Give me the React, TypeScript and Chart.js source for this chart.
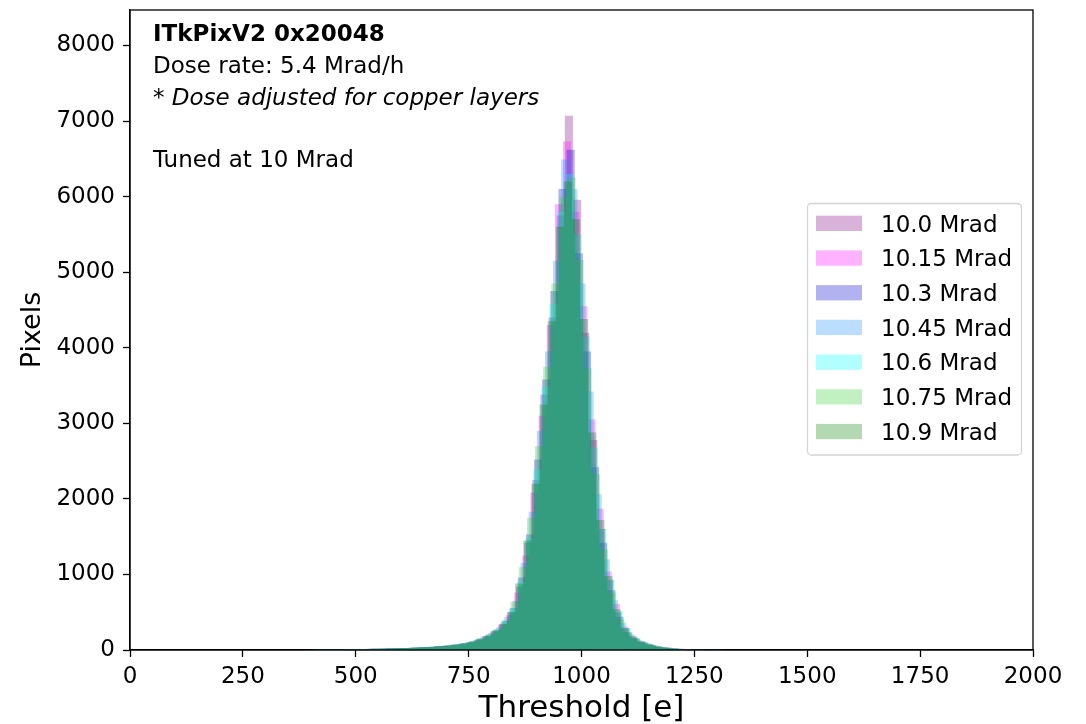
import React, { useEffect, useRef } from 'react';
import { Chart, registerables } from 'chart.js';

Chart.register(...registerables);

// ---------------- data ----------------
const BIN_WIDTH = 18; // electrons per histogram bin

const seriesLabels = ['10.0 Mrad', '10.15 Mrad', '10.3 Mrad', '10.45 Mrad', '10.6 Mrad', '10.75 Mrad', '10.9 Mrad'];

// left edge of the first bin of each histogram [e]
const binStarts = [405, 401, 409, 397, 407, 411, 403];

const counts100 = [5, 6, 7, 9, 10, 11, 14, 15, 18, 22, 24, 28, 31, 37, 41, 49, 58, 69, 87, 107, 148, 186, 258, 352, 505, 840, 1420, 2250, 3380, 4400, 5750, 7070, 5960, 4200, 2780, 1600, 930, 500, 280, 160, 110, 70, 47, 30, 21, 13, 9, 6, 4, 2, 1];
const counts1015 = [4, 6, 7, 8, 9, 11, 13, 15, 17, 21, 23, 27, 30, 35, 40, 47, 54, 67, 79, 102, 130, 180, 236, 330, 465, 760, 1250, 2080, 3100, 4300, 5900, 6730, 5800, 4550, 3050, 1870, 1040, 610, 310, 190, 115, 82, 50, 34, 22, 15, 10, 6, 4, 3, 1];
const counts103 = [5, 6, 8, 8, 10, 12, 14, 17, 19, 22, 26, 28, 33, 36, 44, 51, 59, 73, 89, 117, 148, 203, 268, 385, 555, 960, 1530, 2520, 3580, 4750, 6100, 6620, 5250, 3950, 2420, 1420, 790, 440, 235, 152, 98, 66, 41, 29, 18, 12, 8, 5, 3, 2, 1];
const counts1045 = [4, 5, 6, 8, 9, 11, 13, 15, 17, 20, 23, 26, 29, 34, 39, 45, 53, 64, 78, 96, 126, 168, 226, 300, 440, 650, 1150, 1830, 2900, 3950, 5150, 6490, 6100, 4850, 3420, 2060, 1200, 660, 360, 205, 128, 88, 56, 37, 24, 16, 11, 7, 4, 3, 2];
const counts106 = [5, 6, 7, 8, 10, 12, 14, 16, 19, 22, 25, 28, 32, 37, 43, 50, 58, 71, 88, 112, 147, 196, 265, 370, 540, 900, 1480, 2390, 3480, 4580, 5800, 6300, 5500, 4150, 2680, 1600, 930, 520, 290, 165, 106, 68, 44, 29, 19, 12, 8, 5, 3, 2, 1];
const counts1075 = [5, 6, 7, 8, 10, 12, 14, 16, 19, 22, 25, 28, 32, 37, 44, 51, 61, 73, 92, 120, 158, 210, 282, 400, 640, 1100, 1750, 2700, 3750, 4850, 6000, 6250, 5160, 3730, 2330, 1330, 760, 410, 230, 145, 96, 62, 40, 27, 17, 11, 8, 5, 3, 2, 1];
const counts109 = [5, 6, 7, 8, 10, 11, 14, 15, 18, 21, 24, 27, 31, 36, 41, 48, 56, 68, 83, 104, 137, 185, 250, 345, 500, 880, 1450, 2200, 3250, 4350, 5600, 6200, 5700, 4380, 2880, 1720, 980, 540, 290, 180, 113, 75, 49, 32, 21, 14, 9, 6, 4, 2, 1];

const allCounts = [counts100, counts1015, counts103, counts1045, counts106, counts1075, counts109];

const fillColors = [
  'rgba(128,0,128,0.3)',
  'rgba(255,0,255,0.3)',
  'rgba(0,0,205,0.3)',
  'rgba(30,144,255,0.3)',
  'rgba(0,255,255,0.3)',
  'rgba(50,205,50,0.3)',
  'rgba(0,128,0,0.3)',
];

const xTickValues = [0, 250, 500, 750, 1000, 1250, 1500, 1750, 2000];
const yTickValues = [0, 1000, 2000, 3000, 4000, 5000, 6000, 7000, 8000];
const X_MIN = 0;
const X_MAX = 2000;
const Y_MIN = 0;
const Y_MAX = 8470;

const titleLine = 'ITkPixV2 0x20048';
const doseLine = 'Dose rate: 5.4 Mrad/h';
const noteStar = '* ';
const noteLine = 'Dose adjusted for copper layers';
const tunedLine = 'Tuned at 10 Mrad';

const FONT = '"DejaVu Sans", "Liberation Sans", sans-serif';
const TEXT_SIZE = 23;

// build step-histogram points (left edge of every bin + closing right edge)
function histPoints(start: number, counts: number[]) {
  const pts = counts.map((c, i) => ({ x: start + i * BIN_WIDTH, y: c }));
  pts.push({ x: start + counts.length * BIN_WIDTH, y: counts[counts.length - 1] });
  return pts;
}

const overlayPlugin = {
  id: 'overlay',
  afterDraw(chart: any) {
    const { ctx, chartArea: a } = chart;
    ctx.save();
    // frame
    ctx.strokeStyle = '#000';
    ctx.lineWidth = 1.3;
    ctx.strokeRect(a.left, a.top, a.right - a.left, a.bottom - a.top);

    // annotation text
    ctx.fillStyle = '#000';
    ctx.textAlign = 'left';
    ctx.textBaseline = 'alphabetic';
    const tx = a.left + 23;
    ctx.font = `bold ${TEXT_SIZE}px ${FONT}`;
    ctx.fillText(titleLine, tx, a.top + 31);
    ctx.font = `${TEXT_SIZE}px ${FONT}`;
    ctx.fillText(doseLine, tx, a.top + 63);
    ctx.fillText(noteStar, tx, a.top + 94.5);
    const w = ctx.measureText(noteStar).width;
    ctx.font = `italic ${TEXT_SIZE}px ${FONT}`;
    ctx.fillText(noteLine, tx + w, a.top + 94.5);
    ctx.font = `${TEXT_SIZE}px ${FONT}`;
    ctx.fillText(tunedLine, tx, a.top + 157);

    // legend
    const lx = a.right - 225.5;
    const ly = a.top + 193.5;
    const lw = 214;
    const lh = 251.5;
    const r = 4;
    ctx.beginPath();
    ctx.moveTo(lx + r, ly);
    ctx.lineTo(lx + lw - r, ly);
    ctx.arcTo(lx + lw, ly, lx + lw, ly + r, r);
    ctx.lineTo(lx + lw, ly + lh - r);
    ctx.arcTo(lx + lw, ly + lh, lx + lw - r, ly + lh, r);
    ctx.lineTo(lx + r, ly + lh);
    ctx.arcTo(lx, ly + lh, lx, ly + lh - r, r);
    ctx.lineTo(lx, ly + r);
    ctx.arcTo(lx, ly, lx + r, ly, r);
    ctx.closePath();
    ctx.fillStyle = 'rgba(255,255,255,0.8)';
    ctx.fill();
    ctx.strokeStyle = '#d4d4d4';
    ctx.lineWidth = 1.3;
    ctx.stroke();

    ctx.font = `${TEXT_SIZE}px ${FONT}`;
    seriesLabels.forEach((label, i) => {
      const rowTop = ly + 12.2 + i * 34.7;
      ctx.fillStyle = fillColors[i];
      ctx.fillRect(lx + 8.5, rowTop, 46, 15.3);
      ctx.fillStyle = '#000';
      ctx.fillText(label, lx + 73.5, rowTop + 15.8);
    });
    ctx.restore();
  },
};

export default function App() {
  const canvasRef = useRef<HTMLCanvasElement | null>(null);

  useEffect(() => {
    document.body.style.margin = '0';
    const canvas = canvasRef.current;
    if (!canvas) return;

    const datasets = allCounts.map((counts, i) => ({
      label: seriesLabels[i],
      data: histPoints(binStarts[i], counts),
      stepped: true as const,
      fill: 'origin' as const,
      backgroundColor: fillColors[i],
      borderColor: 'rgba(0,0,0,0)',
      borderWidth: 0,
      pointRadius: 0,
      pointHoverRadius: 0,
      tension: 0,
      order: allCounts.length - i,
    }));

    const chart = new Chart(canvas, {
      type: 'line',
      data: { datasets },
      plugins: [overlayPlugin],
      options: {
        responsive: false,
        animation: false,
        devicePixelRatio: 1,
        events: [],
        layout: { padding: { top: 10, right: 53, left: 0, bottom: 0 } },
        plugins: {
          legend: { display: false },
          tooltip: { enabled: false },
          title: { display: false },
        },
        scales: {
          x: {
            type: 'linear',
            min: X_MIN,
            max: X_MAX,
            offset: false,
            afterFit: (scale: any) => {
              scale.height = 74;
              scale.paddingLeft = 0;
              scale.paddingRight = 0;
            },
            afterBuildTicks: (scale: any) => {
              scale.ticks = xTickValues.map((v) => ({ value: v }));
            },
            ticks: {
              autoSkip: false,
              maxRotation: 0,
              padding: 6,
              color: '#000',
              font: { family: FONT, size: TEXT_SIZE },
              callback: (v: any) => String(v),
            },
            grid: {
              display: true,
              drawOnChartArea: false,
              drawTicks: true,
              tickLength: 7,
              tickColor: '#000',
              tickWidth: 1.3,
            },
            border: { display: true, color: '#000', width: 1.3 },
            title: {
              display: true,
              text: 'Threshold [e]',
              color: '#000',
              font: { family: FONT, size: 31, lineHeight: 1 },
              padding: { top: 0, bottom: 0 },
            },
          },
          y: {
            type: 'linear',
            min: Y_MIN,
            max: Y_MAX,
            afterFit: (scale: any) => {
              scale.width = 130;
              scale.paddingTop = 0;
              scale.paddingBottom = 0;
            },
            afterBuildTicks: (scale: any) => {
              scale.ticks = yTickValues.map((v) => ({ value: v }));
            },
            ticks: {
              autoSkip: false,
              padding: 8,
              color: '#000',
              font: { family: FONT, size: TEXT_SIZE },
              callback: (v: any) => String(v),
            },
            grid: {
              display: true,
              drawOnChartArea: false,
              drawTicks: true,
              tickLength: 7,
              tickColor: '#000',
              tickWidth: 1.3,
            },
            border: { display: true, color: '#000', width: 1.3 },
            title: {
              display: true,
              text: 'Pixels',
              color: '#000',
              font: { family: FONT, size: 27 },
              padding: { top: 17, bottom: 0 },
            },
          },
        },
      },
    });

    return () => {
      chart.destroy();
    };
  }, []);

  return (
    <div style={{ width: 1086, height: 724 }}>
      <canvas ref={canvasRef} width={1086} height={724} style={{ display: 'block' }} />
    </div>
  );
}
